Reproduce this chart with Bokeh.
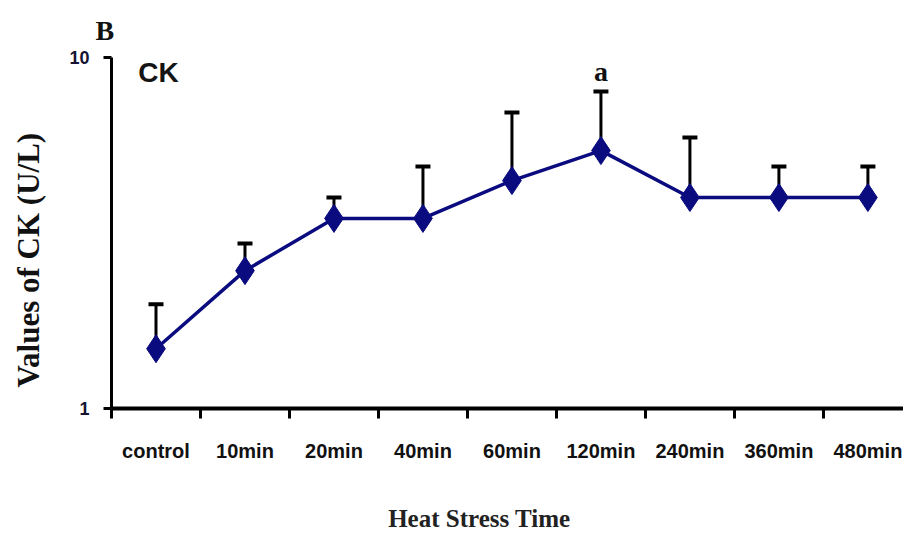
from bokeh.plotting import figure
from bokeh.models import FixedTicker, Range1d, Label, PrintfTickFormatter
from bokeh.core.properties import value
from bokeh.embed import file_html
from bokeh.resources import INLINE

categories = ["control", "10min", "20min", "40min", "60min", "120min", "240min", "360min", "480min"]
ck_mean = [1.48, 2.47, 3.48, 3.48, 4.46, 5.43, 3.99, 3.99, 3.99]
ck_upper = [1.98, 2.95, 3.99, 4.89, 6.97, 8.0, 5.92, 4.89, 4.89]
y_ticks = [1, 10]
sig_index = 5
sig_text = "a"

xs = list(range(len(categories)))

SANS = "Liberation Sans"
SERIF = "Liberation Serif"

p = figure(width=903, height=536, y_axis_type="log",
           x_range=Range1d(-0.5, 8.4), y_range=Range1d(1, 10),
           output_backend="svg", toolbar_location=None,
           min_border_left=111, min_border_right=0,
           min_border_top=57, min_border_bottom=128)
p.outline_line_color = None
p.grid.visible = False
p.background_fill_color = "white"

p.title.text = "B"
p.title.align = "left"
p.title.offset = -16
p.title.standoff = 24
p.title.text_font = SERIF
p.title.text_font_style = "bold"
p.title.text_font_size = "28px"
p.title.text_color = "#111111"

# x axis: labels at centres, tick marks at category boundaries
xa = p.xaxis[0]
bounds = [i - 0.5 for i in range(len(categories))]
xa.ticker = FixedTicker(ticks=xs, minor_ticks=bounds)
xa.major_label_overrides = {i: c for i, c in enumerate(categories)}
xa.major_tick_out = 0
xa.major_tick_in = 0
xa.minor_tick_out = 10
xa.minor_tick_in = 0
xa.minor_tick_line_width = 3
xa.minor_tick_line_color = "black"
xa.axis_line_width = 4
xa.axis_line_color = "black"
xa.major_label_text_font = SANS
xa.major_label_text_font_style = "bold"
xa.major_label_text_font_size = "20px"
xa.major_label_text_color = "#111111"
xa.major_label_standoff = 21
xa.axis_label = "Heat Stress Time" + "\u00a0" * 9
xa.axis_label_text_font = SERIF
xa.axis_label_text_font_style = "bold"
xa.axis_label_text_font_size = "25px"
xa.axis_label_text_color = "#222222"
xa.axis_label_standoff = 40

ya = p.yaxis[0]
ya.ticker = FixedTicker(ticks=y_ticks, minor_ticks=[])
ya.formatter = PrintfTickFormatter(format="%d")
ya.major_tick_out = 8
ya.major_tick_in = 0
ya.major_tick_line_width = 3
ya.minor_tick_out = 0
ya.minor_tick_in = 0
ya.axis_line_width = 3
ya.axis_line_color = "black"
ya.major_label_text_font = SANS
ya.major_label_text_font_style = "bold"
ya.major_label_text_font_size = "18px"
ya.major_label_text_color = "#141432"
ya.major_label_standoff = 14
ya.axis_label = "Values of CK (U/L)" + "\u00a0" * 7
ya.axis_label_text_font = SERIF
ya.axis_label_text_font_style = "bold"
ya.axis_label_text_font_size = "31px"
ya.axis_label_text_color = "#111111"
ya.axis_label_standoff = 20

# error bars (upper only)
p.segment(x0=xs, y0=ck_mean, x1=xs, y1=ck_upper, line_color="black", line_width=3)
p.scatter(x=xs, y=ck_upper, marker="dash", size=15, line_color="black", line_width=4)

# line and markers
p.line(x=xs, y=ck_mean, line_color="#0b0b80", line_width=3.5)
p.scatter(x=xs, y=ck_mean, marker="diamond", size=28, fill_color="#0b0b80", line_color="#0b0b80")

# significance letter
p.text(x=[xs[sig_index]], y=[ck_upper[sig_index]], text=[sig_text], y_offset=-5,
       text_align="center", text_baseline="bottom",
       text_font=value(SERIF), text_font_style="bold", text_font_size="28px",
       text_color="#111111")

# panel label
p.add_layout(Label(x=-0.2, y=9.06, text="CK", text_align="left", text_baseline="middle",
                   text_font=SANS, text_font_style="bold", text_font_size="28px",
                   text_color="#141414"))

open("out.html", "w").write(file_html(p, INLINE))
